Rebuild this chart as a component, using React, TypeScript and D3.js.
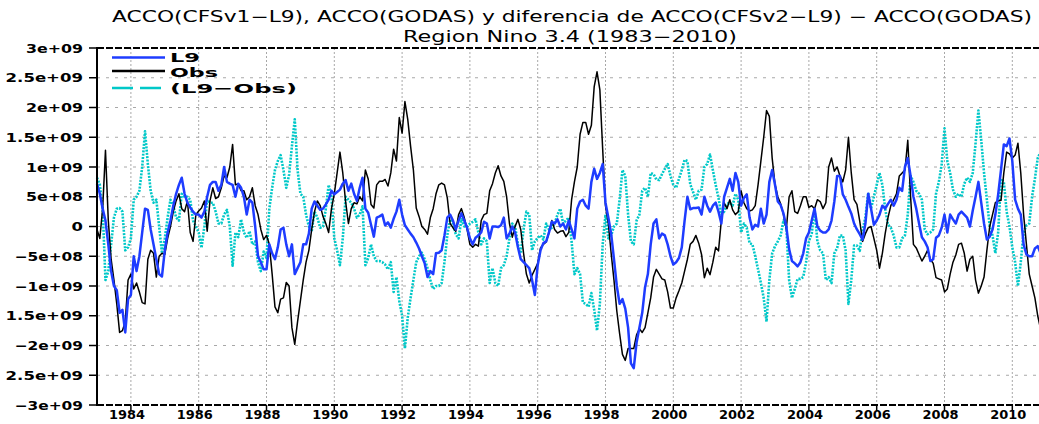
import React from 'react';
import * as d3 from 'd3';

// Monthly series, January 1983 .. December 2010, values in units of 1e9
const START_YEAR = 1983;

const l9Values: number[] = [
  0.72, 0.55, 0.3, 0.1, -0.3, -0.75, -1.0, -1.07, -1.45, -1.4, -1.78, -1.22,
  -1.15, -0.5, -0.75, -0.5, -0.1, 0.3, 0.28, -0.05, -0.3, -0.55, -0.8, -0.84,
  -0.4, -0.1, 0.1, 0.35, 0.55, 0.7, 0.82, 0.55, 0.4, 0.32, 0.25, 0.2,
  0.2, 0.15, 0.25, 0.5, 0.7, 0.75, 0.75, 0.6, 0.7, 1.0, 0.75, 0.72,
  0.7, 0.5, 0.72, 0.65, 0.5, 0.2, 0.45, 0.4, 0.0, -0.5, -0.6, -0.72,
  -0.72, -0.3, -0.45, -0.55, -0.35, -0.05, -0.02, -0.3, -0.5, -0.3, -0.8, -0.7,
  -0.6, -0.3, -0.3, -0.12, 0.3, 0.42, 0.35, 0.28, 0.3, 0.37, 0.45, 0.6,
  0.54, 0.58, 0.62, 0.72, 0.78, 0.6, 0.72, 0.55, 0.43, 0.65, 0.82, 0.3,
  0.23, 0.03, -0.17, 0.15, 0.17, 0.2, 0.02, 0.07, -0.02, 0.13, 0.25, 0.45,
  0.2, 0.02, -0.05, -0.12, -0.18, -0.27, -0.37, -0.5, -0.62, -0.85, -0.75, -0.8,
  -0.45, -0.44, -0.4, -0.15, 0.15, 0.2, 0.1, -0.05, 0.1, 0.22, 0.1, -0.02,
  -0.2, -0.3, -0.19, -0.15, -0.1, 0.08, 0.05, -0.2, 0.0, 0.0, -0.01, 0.02,
  0.15, -0.2, -0.12, 0.0, -0.1, -0.35, -0.55, -0.6, -0.65, -0.7, -0.9, -1.15,
  -0.65, -0.4, -0.28, -0.25, -0.1, 0.08, 0.05, 0.12, 0.0, 0.05, -0.05, 0.1,
  -0.05, -0.2, 0.3, 0.42, 0.45, 0.35, 0.3, 0.75, 0.97, 0.8, 0.9, 1.05,
  0.4, 0.15, -0.12, -0.55, -1.0, -1.3, -1.22, -1.38, -1.7, -2.3, -2.38, -1.95,
  -1.7, -1.45, -1.02, -0.8, -0.3, 0.05, 0.12, -0.2, -0.12, -0.15, -0.3, -0.5,
  -0.64, -0.6, -0.53, -0.35, 0.1, 0.5, 0.29, 0.31, 0.31, 0.32, 0.2, 0.5,
  0.35, 0.25, 0.35, 0.4, 0.25, 0.05, 0.5, 0.65, 0.8, 0.6, 0.9, 0.75,
  0.35, 0.48, 0.54, 0.15, -0.05, 0.03, 0.0, 0.3, 0.05, 0.2, 0.75, 0.95,
  0.7, 0.42, 0.36, 0.22, 0.0, -0.38, -0.58, -0.62, -0.67, -0.6, -0.45, -0.2,
  -0.1, 0.1, 0.3, 0.0, -0.07, -0.1, -0.1, -0.05, 0.1, 0.42, 0.85, 0.85,
  0.54, 0.45, 0.33, 0.22, 0.05, -0.05, -0.13, -0.22, 0.05, 0.55, 0.3, 0.03,
  0.1, 0.2, 0.35, 0.3, 0.38, 0.45, 0.35, 0.45, 0.65, 0.6, 1.0, 1.15,
  0.85, 0.5, 0.3, 0.05, -0.18, -0.25, -0.35, -0.58, -0.55, -0.19, -0.15, -0.02,
  0.2, -0.1, 0.2, 0.12, 0.05, 0.2, 0.25, 0.2, 0.15, 0.0, 0.27, 0.5,
  0.75, 0.4, 0.05, -0.22, -0.17, -0.05, 0.2, 0.54, 0.95, 1.38, 1.35, 1.48,
  1.1, 0.45, 0.3, 0.2, -0.3, -0.47, -0.5, -0.5, -0.37, -0.33, -0.45, -0.55,
];

const obsValues: number[] = [
  -0.05, -0.2, 0.3, 1.28, 0.1, -0.55, -0.9, -1.3, -1.78, -1.75, -1.6, -0.9,
  -0.8, -1.05, -0.95, -1.1, -1.28, -1.3, -0.55, -0.4, -0.45, -0.85, -0.5, -0.45,
  -0.47, -0.2, 0.0, 0.25, 0.43, 0.55, 0.3, 0.25, 0.43, -0.1, -0.25, 0.2,
  0.26, 0.31, 0.43, -0.08, 0.43, 0.65, 0.47, 0.5, 0.65, 0.85, 0.82, 1.0,
  1.38, 0.7, 0.72, 0.6, 0.6, 0.45, 0.5, 0.65, 0.35, 0.2, -0.05, -0.22,
  -0.15, -0.3, -0.8, -1.35, -1.45, -1.22, -1.2, -0.94, -1.0, -1.7, -1.98, -1.6,
  -1.25, -0.9, -0.6, -0.4, -0.05, 0.25, 0.43, 0.35, 0.17, 0.05, -0.1, 0.3,
  0.55, 0.9, 1.25, 0.9, 0.42, 0.05, 0.3, 0.4, 0.38, 0.5, 0.43, 0.95,
  0.8, 0.37, 0.31, 0.7, 0.76, 0.76, 0.79, 0.68, 0.9, 1.3, 1.1, 1.83,
  1.57, 2.1, 1.8, 1.35, 0.95, 0.31, 0.17, 0.0, -0.05, -0.13, 0.15, 0.3,
  0.55, 0.7, 0.73, 0.7, 0.48, 0.05, -0.02, -0.08, 0.2, 0.3, 0.15, -0.05,
  -0.3, -0.35, -0.3, -0.33, 0.1, 0.2, 0.22, 0.6, 0.72, 0.9, 1.02, 0.85,
  0.76, 0.5, 0.05, -0.18, 0.0, 0.12, -0.05, -0.45, -0.8, -0.95, -0.82, -0.72,
  -0.62, -0.36, -0.3, -0.26, -0.1, 0.1, -0.05, -0.11, -0.08, -0.07, -0.17, -0.1,
  0.45, 0.75, 1.0, 1.55, 1.75, 1.75, 1.55, 1.7, 2.35, 2.6, 2.3, 1.3,
  0.35, 0.05, -0.45, -0.9, -1.42, -1.8, -2.15, -2.25, -2.05, -2.05, -2.05, -1.82,
  -1.72, -1.78, -1.7, -1.45, -1.2, -0.85, -0.72, -0.8, -0.88, -0.9, -1.1, -1.37,
  -1.37, -1.2, -1.08, -0.95, -0.75, -0.55, -0.3, -0.25, -0.15, -0.28, -0.47, -0.86,
  -0.7, -0.81, -0.6, -0.35, -0.41, 0.1, 0.4, 0.3, 0.45, 0.28, 0.2, 0.25,
  0.6, 0.4, 0.3, 0.26, 0.28, 0.35, 0.7, 1.1, 1.5, 1.95, 1.85, 1.15,
  0.71, 0.5, 0.38, 0.2, -0.05, 0.5, 0.6, 0.25, 0.22, 0.35, 0.5, 0.5,
  0.32, 0.35, 0.3, 0.45, 0.42, 0.3, 0.4, 1.0, 1.15, 0.93, 1.0, 0.85,
  0.75, 0.95, 1.5, 0.9, 0.45, 0.37, 0.09, -0.25, -0.12, -0.02, 0.0, -0.2,
  -0.4, -0.7, -0.45, -0.12, 0.15, 0.35, 0.45, 0.55, 0.85, 0.9, 0.95, 1.45,
  0.5, -0.3, -0.36, -0.47, -0.58, -0.5, -0.4, -0.55, -0.62, -0.86, -0.88, -0.9,
  -1.1, -1.05, -0.8, -0.6, -0.48, -0.3, -0.28, -0.45, -0.75, -0.55, -0.5, -0.9,
  -1.12, -1.0, -0.85, -0.4, 0.0, 0.2, 0.4, 0.43, 0.44, 0.9, 1.25, 1.22,
  1.15, 1.2, 1.4, 0.9, 0.2, -0.3, -0.8, -1.0, -1.2, -1.5, -1.72, -1.9,
];

const diffValues: number[] = [
  0.82, 0.7, 0.3, -0.9, -0.75, -0.3, 0.15, 0.3, 0.31, 0.25, -0.4, -0.35,
  -0.2, 0.45, 0.5, 0.6, 1.0, 1.6, 1.05, 0.6, 0.4, 0.45, 0.0, -0.45,
  -0.2, 0.15, 0.45, 0.35, 0.15, 0.1, 0.55, 0.5, 0.5, 0.45, 0.1, 0.0,
  -0.1, -0.36, 0.0, 0.45, 0.4, 0.4, 0.25, 0.05, 0.05, 0.2, 0.28, 0.0,
  -0.66, -0.1, -0.18, 0.12, -0.1, -0.19, -0.08, -0.3, -0.25, -0.6, -0.75, -0.42,
  -0.53, 0.3, 0.65, 0.95, 1.1, 1.2, 0.95, 0.65, 0.87, 1.35, 1.8, 0.95,
  0.55, 0.5, 0.2, 0.0, -0.08, 0.25, 0.15, -0.02, 0.0, 0.3, 0.7, 0.5,
  -0.2, -0.4, -0.65, -0.2, 0.5, 0.45, 0.4, 0.3, 0.15, 0.2, 0.34, -0.65,
  -0.53, -0.3, -0.5, -0.58, -0.58, -0.6, -0.64, -0.72, -0.6, -1.1, -0.85, -1.25,
  -1.5, -2.05, -1.53, -1.2, -0.9, -0.6, -0.5, -0.44, -0.55, -0.7, -0.9, -1.05,
  -1.0, -1.0, -0.95, -0.6, -0.15, 0.12, 0.05, -0.13, -0.2, 0.12, 0.0, 0.0,
  0.05, 0.08, 0.12, -0.1, -0.3, -0.2, -0.25, -0.95, -0.7, -0.95, -1.0, -0.7,
  -0.65, -0.5, -0.2, 0.05, 0.0, -0.3, -0.45, -0.05, 0.25, 0.2, -0.4, -0.25,
  -0.19, -0.15, -0.22, 0.05, -0.05, -0.02, 0.05, 0.2, 0.3, 0.05, 0.1, 0.15,
  -0.25, -0.8, -0.7, -0.8, -1.28, -1.3, -1.35, -1.12, -1.4, -1.75, -1.3, -0.3,
  0.2, -0.2, -0.15, 0.0, 0.05, 0.45, 0.95, 0.85, 0.2, -0.25, -0.3, 0.1,
  0.2, 0.6, 0.65, 0.5, 0.9, 0.88, 0.79, 0.78, 0.88, 0.97, 1.05, 0.85,
  0.7, 0.65, 0.8, 0.95, 1.12, 1.1, 0.71, 0.58, 0.45, 0.6, 0.62, 1.0,
  1.05, 1.21, 0.95, 0.7, 0.48, 0.2, 0.25, 0.38, 0.4, 0.35, 0.55, 0.45,
  -0.1, 0.05, -0.02, -0.28, -0.3, -0.5, -0.72, -0.95, -1.2, -1.6, -0.9, -0.45,
  -0.33, -0.25, -0.15, 0.1, 0.0, -0.9, -1.2, -1.05, -0.88, -0.88, -0.85, -0.6,
  -0.25, -0.12, 0.3, -0.25, -0.4, -0.45, -0.9, -0.85, -0.95, -0.45, -0.36, -0.15,
  -0.15, -0.4, -1.3, -0.9, -0.32, -0.32, -0.41, -0.05, 0.15, 0.57, 0.3, 0.5,
  0.7, 0.9, 0.7, 0.3, 0.03, -0.02, -0.15, -0.35, -0.35, -0.2, -0.15, 0.2,
  0.85, 0.75, 0.6, 0.55, 0.45, -0.05, -0.13, -0.1, -0.05, 0.55, 0.75, 1.04,
  1.65, 1.1, 0.9, 0.62, 0.5, 0.55, 0.5, 0.72, 0.82, 0.75, 0.9, 1.4,
  1.95, 1.45, 0.9, 0.45, 0.0, -0.15, -0.45, -0.1, 0.8, 0.75, 0.25, 0.0,
  -0.35, -0.6, -1.0, -0.6, -0.1, 0.02, 0.05, 0.5, 0.8, 1.15, 1.25, 1.3,
];

const yTickValues: number[] = [-3, -2.5, -2, -1.5, -1, -0.5, 0, 0.5, 1, 1.5, 2, 2.5, 3];
const yTickLabels: string[] = [
  '\u22123e+09', '2.5e+09', '\u22122e+09', '1.5e+09', '\u22121e+09', '\u22125e+08', '0',
  '5e+08', '1e+09', '1.5e+09', '2e+09', '2.5e+09', '3e+09',
];
const xTickYears: number[] = [1984, 1986, 1988, 1990, 1992, 1994, 1996, 1998, 2000, 2002, 2004, 2006, 2008, 2010];
const titleLines: string[] = [
  'ACCO(CFSv1\u2212L9), ACCO(GODAS) y diferencia de ACCO(CFSv2\u2212L9) \u2212 ACCO(GODAS)',
  'Region Nino 3.4 (1983\u22122010)',
];
const legendLabels: string[] = ['L9', 'Obs', '(L9\u2212Obs)'];

const W = 1039;
const H = 424;
const LEFT = 97;
const TOP = 48;
const BOTTOM = 405;
const PX_PER_YEAR = 33.9;

const BLUE = 'rgb(30,60,255)';
const CYAN = 'rgb(0,200,200)';
const FONT = "'DejaVu Sans', Verdana, sans-serif";

function labelWidth(s: string): number {
  let w = 0;
  for (const ch of s) w += ch === '.' ? 9 : 11.4;
  return w;
}

export default function App() {
  const x = d3.scaleLinear().domain([START_YEAR, START_YEAR + 28]).range([LEFT, LEFT + 28 * PX_PER_YEAR]);
  const y = d3.scaleLinear().domain([-3, 3]).range([BOTTOM, TOP]);
  const line = d3
    .line<number>()
    .x((_, i) => x(START_YEAR + i / 12))
    .y((d) => y(d));

  const series = [
    { key: 'diff', values: diffValues, color: CYAN, width: 2.6, dash: '2 1.3' },
    { key: 'obs', values: obsValues, color: '#000', width: 1.5, dash: undefined },
    { key: 'l9', values: l9Values, color: BLUE, width: 2.5, dash: undefined },
  ];

  const legendRows = [
    { label: legendLabels[0], color: BLUE, width: 2.4, dash: undefined, ly: 57.5, ty: 62, tl: 30 },
    { label: legendLabels[1], color: '#000', width: 2.4, dash: undefined, ly: 71, ty: 76.5, tl: 48 },
    { label: legendLabels[2], color: CYAN, width: 2.4, dash: '21 7', ly: 88, ty: 92.5, tl: 127 },
  ];

  return (
    <svg
      width={W}
      height={H}
      viewBox={`0 0 ${W} ${H}`}
      style={{ position: 'absolute', left: 0, top: 0, background: '#fff' }}
    >
      <rect x={0} y={0} width={W} height={H} fill="#fff" />
      {/* grid */}
      {yTickValues
        .filter((v) => v > -3 && v < 3)
        .map((v) => (
          <line key={'gy' + v} x1={LEFT} x2={W} y1={y(v)} y2={y(v)} stroke="#a8a8a8" strokeWidth={1} strokeDasharray="3 6" />
        ))}
      {xTickYears.map((yr) => (
        <line key={'gx' + yr} x1={x(yr)} x2={x(yr)} y1={TOP} y2={BOTTOM} stroke="#a8a8a8" strokeWidth={1} strokeDasharray="2 2" />
      ))}

      {/* series */}
      {series.map((s) => (
        <path
          key={s.key}
          d={line(s.values) || ''}
          fill="none"
          stroke={s.color}
          strokeWidth={s.width}
          strokeDasharray={s.dash}
          strokeLinejoin="round"
        />
      ))}

      {/* frame */}
      <line x1={LEFT} x2={LEFT} y1={TOP - 1} y2={BOTTOM + 1} stroke="#000" strokeWidth={2} />
      <line x1={LEFT} x2={W} y1={TOP} y2={TOP} stroke="#000" strokeWidth={2} strokeDasharray="7 2" />
      <line x1={LEFT} x2={W} y1={BOTTOM} y2={BOTTOM} stroke="#000" strokeWidth={2} strokeDasharray="7 2" />

      {/* y ticks and labels */}
      {yTickValues.map((v, i) => (
        <g key={'yt' + v}>
          <line x1={89} x2={LEFT} y1={y(v)} y2={y(v)} stroke="#000" strokeWidth={1.5} />
          <text
            x={83}
            y={y(v) + 4.5}
            textAnchor="end"
            fontFamily={FONT}
            fontWeight="bold"
            fontSize={12}
            textLength={labelWidth(yTickLabels[i])}
            lengthAdjust="spacingAndGlyphs"
          >
            {yTickLabels[i]}
          </text>
        </g>
      ))}

      {/* x ticks and labels */}
      {xTickYears.map((yr) => (
        <g key={'xt' + yr}>
          <line x1={x(yr)} x2={x(yr)} y1={BOTTOM} y2={BOTTOM + 6} stroke="#000" strokeWidth={1.5} />
          <text
            x={x(yr) - 4}
            y={419}
            textAnchor="middle"
            fontFamily={FONT}
            fontWeight="bold"
            fontSize={12}
            textLength={36}
            lengthAdjust="spacingAndGlyphs"
          >
            {yr}
          </text>
        </g>
      ))}

      {/* title */}
      <text x={572} y={22} textAnchor="middle" fontFamily={FONT} fontSize={15} textLength={920} lengthAdjust="spacingAndGlyphs">
        {titleLines[0]}
      </text>
      <text x={570} y={42} textAnchor="middle" fontFamily={FONT} fontSize={15} textLength={334} lengthAdjust="spacingAndGlyphs">
        {titleLines[1]}
      </text>

      {/* legend */}
      {legendRows.map((r) => (
        <g key={r.label}>
          <line x1={112} x2={165} y1={r.ly} y2={r.ly} stroke={r.color} strokeWidth={r.width} strokeDasharray={r.dash} />
          <text
            x={170}
            y={r.ty}
            fontFamily={FONT}
            fontWeight="bold"
            fontSize={13}
            textLength={r.tl}
            lengthAdjust="spacingAndGlyphs"
          >
            {r.label}
          </text>
        </g>
      ))}
    </svg>
  );
}
